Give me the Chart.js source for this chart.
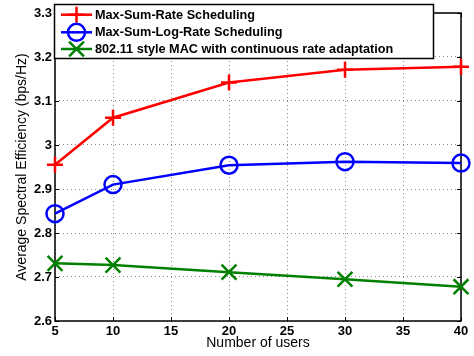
<!DOCTYPE html>
<html>
<head>
<meta charset="utf-8">
<script src="https://cdn.jsdelivr.net/npm/chart.js@4.4.1/dist/chart.umd.min.js"></script>
<style>
    html, body { margin: 0; padding: 0; background: #fff; }
    #wrap { width: 474px; height: 356px; }
</style>
</head>
<body>
<div id="wrap"><canvas id="se-chart" width="474" height="356"></canvas></div>
<script>
// Number of users (x axis)
const users = [5, 10, 20, 30, 40];

// Average spectral efficiency per scheme (bps/Hz)
const maxSumRate = [2.955, 3.062, 3.142, 3.171, 3.178];
const maxSumLogRate = [2.844, 2.910, 2.954, 2.962, 2.959];
const mac80211 = [2.731, 2.727, 2.711, 2.695, 2.678];

const seriesNames = [
    'Max-Sum-Rate Scheduling',
    'Max-Sum-Log-Rate Scheduling',
    '802.11 style MAC with continuous rate adaptation'
];
const seriesColors = ['#ff0000', '#0000ff', '#008000'];

const xTitle = 'Number of users';
const yTitle = 'Average Spectral Efficiency (bps/Hz)';

const markers = [
    { style: 'cross', radius: 8 },
    { style: 'circle', radius: 8.5 },
    { style: 'crossRot', radius: 10.5 }
];

function toPoints(values) {
    return users.map((u, i) => ({ x: u, y: values[i] }));
}

// frame + inward tick marks (box on)
const framePlugin = {
    id: 'frame',
    beforeDatasetsDraw(chart) {
        const ctx = chart.ctx;
        const a = chart.chartArea;
        const xs = chart.scales.x;
        const ys = chart.scales.y;
        ctx.save();
        ctx.strokeStyle = '#000';
        ctx.lineWidth = 1;
        ctx.beginPath();
        xs.ticks.forEach(t => {
            const px = Math.round(xs.getPixelForValue(t.value)) + 0.5;
            ctx.moveTo(px, a.bottom); ctx.lineTo(px, a.bottom - 4);
            ctx.moveTo(px, a.top); ctx.lineTo(px, a.top + 4);
        });
        ys.ticks.forEach(t => {
            const py = Math.round(ys.getPixelForValue(t.value)) + 0.5;
            ctx.moveTo(a.left, py); ctx.lineTo(a.left + 4, py);
            ctx.moveTo(a.right, py); ctx.lineTo(a.right - 4, py);
        });
        ctx.stroke();
        ctx.lineWidth = 1.5;
        ctx.strokeRect(a.left, a.top, a.right - a.left, a.bottom - a.top);
        ctx.restore();
    }
};

// legend box drawn inside the plot, top-left
const legendPlugin = {
    id: 'insideLegend',
    afterDraw(chart) {
        const ctx = chart.ctx;
        const a = chart.chartArea;
        const boxX = a.left - 0.5;
        const boxY = 4.5;
        const boxW = 379;
        const boxH = 54;
        ctx.save();
        ctx.fillStyle = '#fff';
        ctx.fillRect(boxX, boxY, boxW, boxH);
        ctx.strokeStyle = '#000';
        ctx.lineWidth = 1.5;
        ctx.strokeRect(boxX, boxY, boxW, boxH);

        const rows = [14.7, 32.3, 49];
        ctx.font = 'bold 12.7px "Liberation Sans", Arial, sans-serif';
        ctx.textBaseline = 'middle';
        ctx.textAlign = 'left';
        seriesNames.forEach((name, i) => {
            const y = rows[i];
            ctx.strokeStyle = seriesColors[i];
            ctx.lineWidth = 2.5;
            ctx.beginPath();
            ctx.moveTo(61, y);
            ctx.lineTo(92, y);
            ctx.stroke();
            ctx.fillStyle = 'rgba(0,0,0,0)';
            Chart.helpers.drawPoint(ctx, {
                pointStyle: markers[i].style,
                radius: markers[i].radius,
                borderWidth: 2.5,
                rotation: 0
            }, 76.5, y);
            ctx.fillStyle = '#000';
            ctx.fillText(name, 95, y + 0.5);
        });
        ctx.restore();
    }
};

document.addEventListener('DOMContentLoaded', function() {
    const ctx = document.getElementById('se-chart').getContext('2d');

    const datasets = [maxSumRate, maxSumLogRate, mac80211].map((vals, i) => ({
        label: seriesNames[i],
        data: toPoints(vals),
        borderColor: seriesColors[i],
        backgroundColor: 'rgba(0,0,0,0)',
        borderWidth: 2.5,
        pointStyle: markers[i].style,
        pointRadius: markers[i].radius,
        pointBorderWidth: 2.5,
        pointBorderColor: seriesColors[i],
        pointBackgroundColor: 'rgba(0,0,0,0)',
        tension: 0,
        clip: false
    }));

    window.seChart = new Chart(ctx, {
        type: 'line',
        data: { datasets: datasets },
        options: {
            responsive: false,
            animation: false,
            events: [],
            layout: { padding: { top: 6, right: 10, left: 0, bottom: 0 } },
            plugins: {
                legend: { display: false },
                tooltip: { enabled: false }
            },
            scales: {
                x: {
                    type: 'linear',
                    min: 5,
                    max: 40,
                    ticks: {
                        stepSize: 5,
                        color: '#000',
                        padding: 3,
                        font: { family: '"Liberation Sans", Arial, sans-serif', size: 13, weight: 'bold' }
                    },
                    grid: { color: '#8a8a8a', lineWidth: 1, drawTicks: false },
                    border: { display: false, dash: [1, 3] },
                    title: {
                        display: true,
                        text: xTitle,
                        color: '#000',
                        padding: { top: 0, bottom: 4.5 },
                        font: { family: '"Liberation Sans", Arial, sans-serif', size: 14, weight: 'normal' }
                    },
                    afterFit(scale) {
                        scale.height = 35;
                        scale.paddingLeft = 0;
                        scale.paddingRight = 0;
                    }
                },
                y: {
                    min: 2.6,
                    max: 3.3,
                    ticks: {
                        stepSize: 0.1,
                        color: '#000',
                        padding: 3,
                        font: { family: '"Liberation Sans", Arial, sans-serif', size: 13, weight: 'bold' },
                        callback: value => String(+value.toFixed(1))
                    },
                    grid: { color: '#8a8a8a', lineWidth: 1, drawTicks: false },
                    border: { display: false, dash: [1, 3] },
                    title: {
                        display: true,
                        text: yTitle,
                        color: '#000',
                        padding: { top: 14, bottom: 0 },
                        font: { family: '"Liberation Sans", Arial, sans-serif', size: 14, weight: 'normal' }
                    },
                    afterFit(scale) {
                        scale.width = 55;
                        scale.paddingTop = 0;
                        scale.paddingBottom = 0;
                    }
                }
            }
        },
        plugins: [framePlugin, legendPlugin]
    });
});
</script>
</body>
</html>
